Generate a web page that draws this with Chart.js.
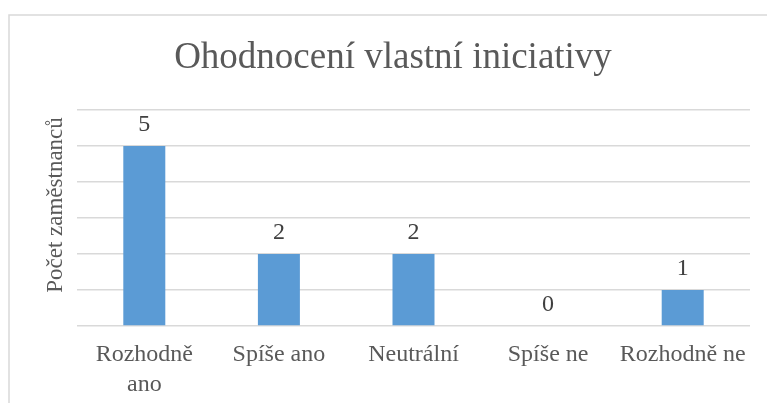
<!DOCTYPE html>
<html>
<head>
<meta charset="utf-8">
<script src="https://cdn.jsdelivr.net/npm/chart.js@4"></script>
<style>
  html, body { margin: 0; padding: 0; background: #fff; overflow: hidden; }
  #wrap { width: 767px; height: 403px; position: relative; }
</style>
</head>
<body>
<div id="wrap"><canvas id="chart"></canvas></div>
<script>
const categories = [['Rozhodně', 'ano'], 'Spíše ano', 'Neutrální', 'Spíše ne', 'Rozhodně ne'];
const counts = [5, 2, 2, 0, 1];
const yTicks = [0, 1, 2, 3, 4, 5, 6];

const titleText = 'Ohodnocení vlastní iniciativy';
const yTitle = 'Počet zaměstnanců';

const serif = '"Liberation Serif", "Times New Roman", serif';

// thin frame around the chart (only top and left edge visible)
const frame = {
    id: 'frame',
    afterLayout(chart) {
        // excel centres the title a bit right of the plot centre
        chart.titleBlock.left += 36;
    },
    beforeDraw(chart) {
        const ctx = chart.ctx;
        ctx.save();
        ctx.fillStyle = '#fff';
        ctx.fillRect(0, 0, chart.width, chart.height);
        ctx.strokeStyle = '#d9d9d9';
        ctx.lineWidth = 1.5;
        ctx.beginPath();
        ctx.moveTo(9, chart.height + 5);
        ctx.lineTo(9, 15);
        ctx.lineTo(chart.width + 5, 15);
        ctx.stroke();
        ctx.restore();
    }
};

// value labels above bars + vertical axis title
const valueLabels = {
    id: 'valueLabels',
    afterDatasetsDraw(chart) {
        const ctx = chart.ctx;
        const meta = chart.getDatasetMeta(0);
        ctx.save();
        ctx.font = '24px ' + serif;
        ctx.fillStyle = '#404040';
        ctx.textAlign = 'center';
        ctx.textBaseline = 'alphabetic';
        meta.data.forEach((bar, i) => {
            ctx.fillText(String(counts[i]), bar.x, bar.y - 15);
        });
        ctx.restore();

        const area = chart.chartArea;
        ctx.save();
        ctx.translate(56, (area.top + area.bottom) / 2 - 13);
        ctx.rotate(-Math.PI / 2);
        ctx.font = '23px ' + serif;
        ctx.fillStyle = '#595959';
        ctx.textAlign = 'center';
        ctx.textBaseline = 'middle';
        ctx.fillText(yTitle, 0, 0);
        ctx.restore();
    }
};

function init() {
    const ctx = document.getElementById('chart').getContext('2d');
    new Chart(ctx, {
        type: 'bar',
        data: {
            labels: categories,
            datasets: [{
                data: counts,
                backgroundColor: '#5b9bd5',
                borderWidth: 0,
                barPercentage: 0.312,
                categoryPercentage: 1
            }]
        },
        options: {
            responsive: true,
            maintainAspectRatio: false,
            animation: false,
            layout: { padding: { left: 0, right: 17, top: 0, bottom: 0 } },
            plugins: {
                legend: { display: false },
                tooltip: { enabled: false },
                title: {
                    display: true,
                    text: titleText,
                    color: '#595959',
                    font: { family: serif, size: 37, weight: 'normal', lineHeight: 1.2 },
                    padding: { top: 36, bottom: 29.6 }
                }
            },
            scales: {
                x: {
                    grid: { display: false, drawTicks: false },
                    border: { display: false },
                    ticks: {
                        color: '#595959',
                        font: { family: serif, size: 24, lineHeight: 1.25 },
                        padding: 14,
                        maxRotation: 0,
                        autoSkip: false
                    },
                    afterFit(scale) { scale.height = 77; }
                },
                y: {
                    min: yTicks[0],
                    max: yTicks[yTicks.length - 1],
                    afterBuildTicks(scale) { scale.ticks = yTicks.map(v => ({ value: v })); },
                    grid: { color: '#d9d9d9', lineWidth: 1.5, drawTicks: false },
                    border: { display: false },
                    ticks: { display: false },
                    afterFit(scale) { scale.width = 77; }
                }
            }
        },
        plugins: [frame, valueLabels]
    });
}
init();
</script>
</body>
</html>
